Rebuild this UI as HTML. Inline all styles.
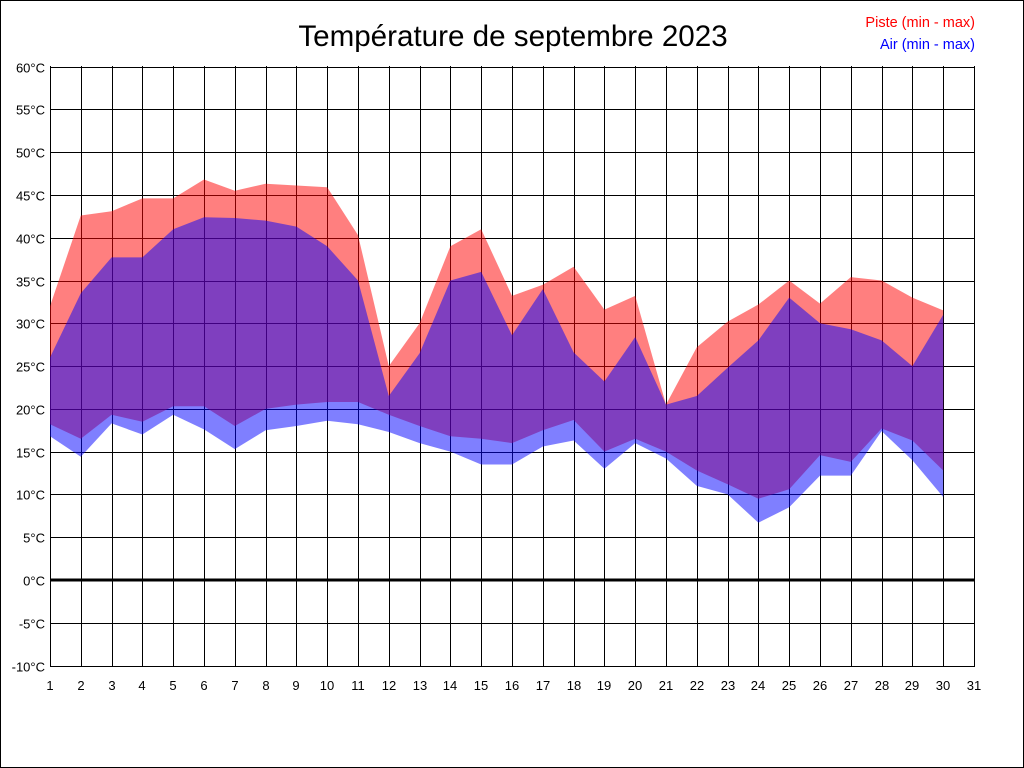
<!DOCTYPE html>
<html><head><meta charset="utf-8"><style>
html,body{margin:0;padding:0;background:#fff}
svg{display:block;font-family:"Liberation Sans",sans-serif}
</style></head><body>
<svg id="s" width="1024" height="768" xmlns="http://www.w3.org/2000/svg"></svg>
<script>
var s=document.getElementById('s');
var X=function(d){return 50+(d-1)*(924/30);};
var Y=function(t){return 580-t*(599/70);};
var h='<rect x="0.5" y="0.5" width="1023" height="767" fill="#fff" stroke="#000"/>';
h+='<text x="513" y="46" font-size="29.6" text-anchor="middle">Température de septembre 2023</text>';
h+='<text x="975" y="27" font-size="14.5" text-anchor="end" fill="#f00">Piste (min - max)</text>';
h+='<text x="975" y="49" font-size="14.5" text-anchor="end" fill="#00f">Air (min - max)</text>';
for(var d=1;d<=31;d++){var x=Math.round(X(d))+0.5;h+='<line x1="'+x+'" y1="66" x2="'+x+'" y2="666" stroke="#000"/>';
h+='<text x="'+(x-0.5)+'" y="690" font-size="13" text-anchor="middle">'+d+'</text>';}
for(var t=-10;t<=60;t+=5){var y=Math.round(Y(t))+0.5;h+='<line x1="50" y1="'+y+'" x2="975" y2="'+y+'" stroke="#000"/>';
h+='<text x="45" y="'+(y+5)+'" font-size="13" text-anchor="end">'+t+'°C</text>';}
var pmax=[32,42.6,43.1,44.6,44.6,46.8,45.5,46.3,46.1,45.9,40.3,25,30,39,41,33.2,34.5,36.6,31.6,33.2,20.5,27.2,30.2,32.2,35,32.3,35.4,35,33,31.5];
var amax=[26,33.5,37.7,37.7,41,42.4,42.3,42,41.3,39,35,21.5,26.5,35,36,28.6,34,26.6,23.2,28.4,20.5,21.5,24.8,28,33,30,29.3,28,25,31];
var pmin=[18.2,16.5,19.3,18.5,20.3,20.3,18,20,20.5,20.8,20.8,19.3,18,16.8,16.5,16,17.5,18.7,15,16.5,15,12.8,11.2,9.5,10.6,14.6,13.8,17.7,16.3,12.8];
var amin=[16.8,14.4,18.3,17,19.3,17.6,15.3,17.5,18,18.6,18.2,17.3,16,15,13.5,13.5,15.6,16.3,13,16,14.2,11,10,6.7,8.5,12.2,12.2,17.4,14,9.7];
function poly(a,b,c){var p=[];for(var i=0;i<30;i++)p.push(X(i+1).toFixed(1)+','+Y(a[i]).toFixed(1));
for(var i=29;i>=0;i--)p.push(X(i+1).toFixed(1)+','+Y(b[i]).toFixed(1));
return '<polygon points="'+p.join(' ')+'" fill="'+c+'" fill-opacity="0.5"/>';}
h+=poly(pmax,pmin,'#f00');h+=poly(amax,amin,'#00f');
h+='<line x1="50" y1="580" x2="975" y2="580" stroke="#000" stroke-width="3"/>';
s.innerHTML=h;
</script>
</body></html>
